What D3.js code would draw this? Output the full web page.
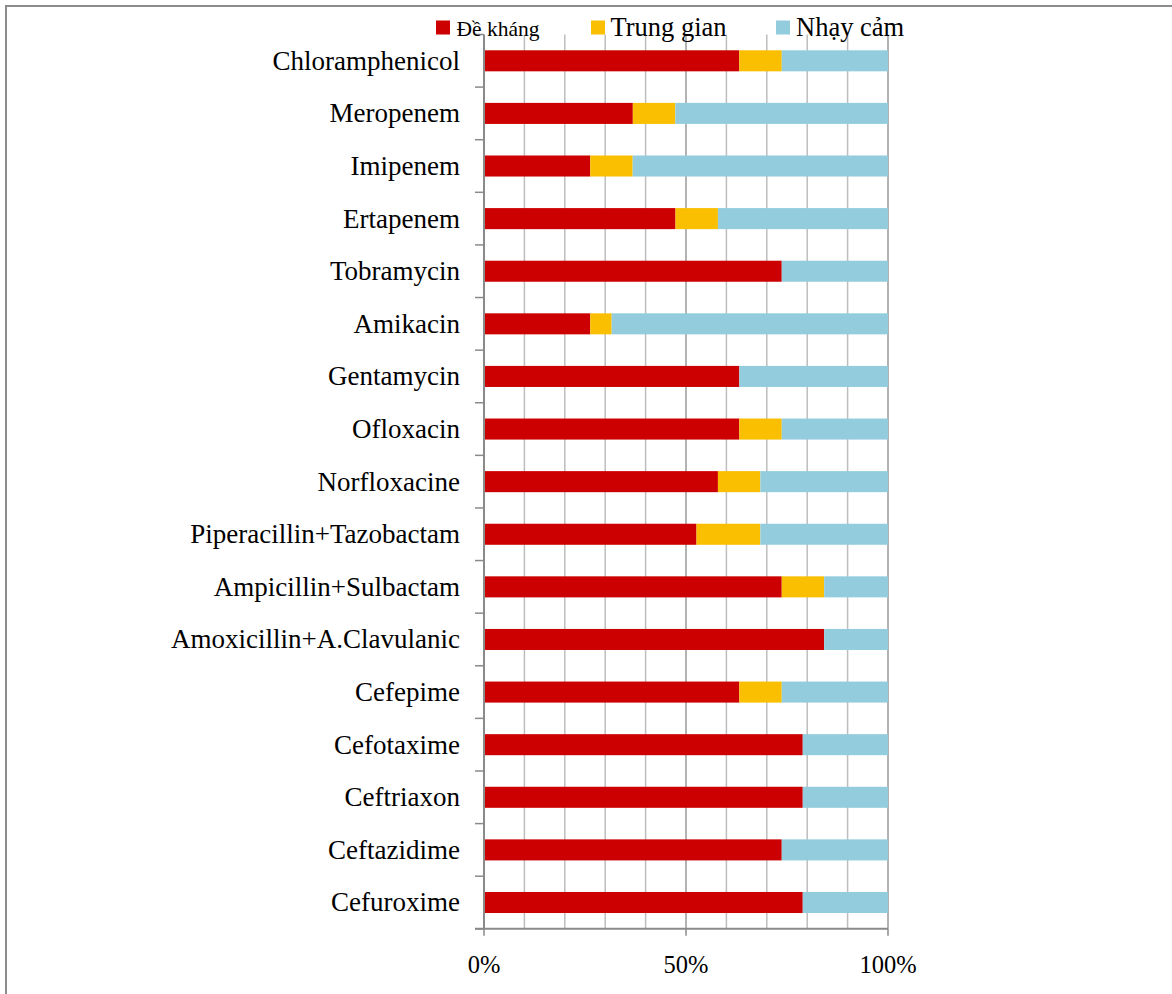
<!DOCTYPE html>
<html>
<head>
<meta charset="utf-8">
<script src="https://cdn.jsdelivr.net/npm/d3@7/dist/d3.min.js"></script>
<style>
  html, body { margin: 0; padding: 0; background: #fff; }
  svg { display: block; }
  text { font-family: "Liberation Serif", "Times New Roman", serif; fill: #000; }
</style>
</head>
<body>
<svg id="chart" width="1172" height="994"></svg>
<script>
// Antibiotic resistance profile (% of isolates), 100% stacked bars
const categories = [
  "Chloramphenicol", "Meropenem", "Imipenem", "Ertapenem", "Tobramycin",
  "Amikacin", "Gentamycin", "Ofloxacin", "Norfloxacine",
  "Piperacillin+Tazobactam", "Ampicillin+Sulbactam", "Amoxicillin+A.Clavulanic",
  "Cefepime", "Cefotaxime", "Ceftriaxon", "Ceftazidime", "Cefuroxime"
];
const resistant    = [63.2, 36.8, 26.3, 47.4, 73.7, 26.3, 63.2, 63.2, 57.9, 52.6, 73.7, 84.2, 63.2, 78.9, 78.9, 73.7, 78.9];
const intermediate = [10.5, 10.5, 10.5, 10.5,  0.0,  5.3,  0.0, 10.5, 10.5, 15.8, 10.5,  0.0, 10.5,  0.0,  0.0,  0.0,  0.0];
const susceptible  = [26.3, 52.6, 63.2, 42.1, 26.3, 68.4, 36.8, 26.3, 31.6, 31.6, 15.8, 15.8, 26.3, 21.1, 21.1, 26.3, 21.1];
const seriesNames  = ["Đề kháng", "Trung gian", "Nhạy cảm"];
const seriesColors = ["#CC0000", "#F9BF00", "#93CDDD"];
const xTickLabels  = ["0%", "50%", "100%"];

const svg = d3.select("#chart");

// outer frame (top and left edges)
svg.append("line").attr("x1", 6).attr("y1", 6).attr("x2", 1172).attr("y2", 6)
  .attr("stroke", "#8c8c8c").attr("stroke-width", 2);
svg.append("line").attr("x1", 6).attr("y1", 5).attr("x2", 6).attr("y2", 994)
  .attr("stroke", "#8c8c8c").attr("stroke-width", 2);

const plot = { left: 484, right: 888, top: 34.5, bottom: 928.8 };

const table = categories.map((c, i) => ({
  name: c,
  [seriesNames[0]]: resistant[i],
  [seriesNames[1]]: intermediate[i],
  [seriesNames[2]]: susceptible[i]
}));
const stacked = d3.stack().keys(seriesNames)
  .offset(d3.stackOffsetExpand)(table);

const x = d3.scaleLinear().domain([0, 1]).range([plot.left, plot.right]);
const y = d3.scaleBand().domain(categories).range([plot.top, plot.bottom])
  .paddingInner(0.6).paddingOuter(0.3);
const yEdges = d3.scaleLinear().domain([0, categories.length]).range([plot.top, plot.bottom]);

// gridlines every 10%
const gridVals = d3.range(1, 11).map(d => d / 10);
svg.append("g").selectAll("line").data(gridVals).join("line")
  .attr("x1", d => x(d)).attr("x2", d => x(d))
  .attr("y1", plot.top).attr("y2", plot.bottom)
  .attr("stroke", d => (Math.round(d * 10) % 5 === 0) ? "#9a9a9a" : "#bdbdbd")
  .attr("stroke-width", 1.5);

// bars
svg.append("g").selectAll("g").data(stacked).join("g")
  .attr("fill", (d, i) => seriesColors[i])
  .selectAll("rect").data(d => d).join("rect")
  .attr("x", d => x(d[0]))
  .attr("width", d => Math.max(0, x(d[1]) - x(d[0])))
  .attr("y", d => y(d.data.name))
  .attr("height", y.bandwidth());

// category axis: line, boundary ticks, labels
const axisColor = "#8a8a8a";
svg.append("line").attr("x1", plot.left).attr("x2", plot.left)
  .attr("y1", plot.top).attr("y2", plot.bottom)
  .attr("stroke", axisColor).attr("stroke-width", 2);
svg.append("g").selectAll("line").data(d3.range(categories.length + 1)).join("line")
  .attr("x1", plot.left - 9).attr("x2", plot.left)
  .attr("y1", d => yEdges(d)).attr("y2", d => yEdges(d))
  .attr("stroke", axisColor).attr("stroke-width", 1.5);
svg.append("g").selectAll("text").data(categories).join("text")
  .attr("x", 460)
  .attr("y", d => y(d) + y.bandwidth() / 2)
  .attr("dy", "0.33em")
  .attr("text-anchor", "end")
  .attr("font-size", 27)
  .text(d => d);

// value axis
svg.append("line").attr("x1", plot.left - 9).attr("x2", plot.right)
  .attr("y1", plot.bottom).attr("y2", plot.bottom)
  .attr("stroke", axisColor).attr("stroke-width", 2);
const xTicks = [0, 0.5, 1];
svg.append("g").selectAll("line").data(xTicks).join("line")
  .attr("x1", d => x(d)).attr("x2", d => x(d))
  .attr("y1", plot.bottom).attr("y2", plot.bottom + 7)
  .attr("stroke", axisColor).attr("stroke-width", 1.5);
svg.append("g").selectAll("text").data(xTicks).join("text")
  .attr("x", d => x(d))
  .attr("y", 972.5)
  .attr("text-anchor", "middle")
  .attr("font-size", 24.5)
  .text((d, i) => xTickLabels[i]);

// legend
const legendItems = [
  { sx: 436, tx: 456.5, size: 21.5 },
  { sx: 591, tx: 610.5, size: 26.5 },
  { sx: 776, tx: 796,   size: 26.5 }
];
const lg = svg.append("g").selectAll("g").data(seriesNames).join("g");
lg.append("rect")
  .attr("x", (d, i) => legendItems[i].sx).attr("y", 20.5)
  .attr("width", 14).attr("height", 14)
  .attr("fill", (d, i) => seriesColors[i]);
lg.append("text")
  .attr("x", (d, i) => legendItems[i].tx).attr("y", 36)
  .attr("font-size", (d, i) => legendItems[i].size)
  .text(d => d);
</script>
</body>
</html>
